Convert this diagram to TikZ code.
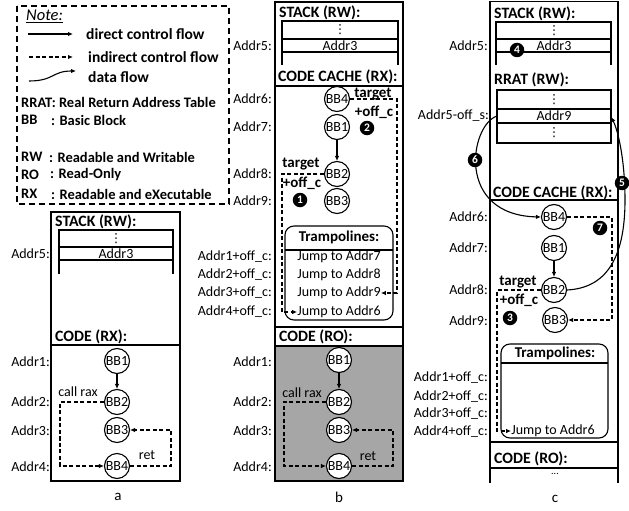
\documentclass[tikz,border=0pt]{standalone}
\usepackage{fontspec}
\setmainfont{Carlito}
\newfontfamily\symfam{DejaVu Sans}
\usetikzlibrary{arrows.meta, positioning, calc}

\begin{document}
\begin{tikzpicture}[x=1pt, y=-1pt,
  memb/.style={draw, line width=1.1pt},
  notebox/.style={draw, line width=1.1pt, dash pattern=on 6pt off 4pt},
  ttl/.style={anchor=west, font=\fontsize{15.8}{17}\selectfont\bfseries, inner sep=0pt},
  key/.style={anchor=west, font=\fontsize{14.5}{16}\selectfont\bfseries, inner sep=0pt},
  leg/.style={anchor=west, font=\fontsize{15.5}{17}\selectfont\bfseries, inner sep=0pt},
  bld/.style={font=\fontsize{15}{16}\selectfont\bfseries, inner sep=0pt},
  adr/.style={anchor=east, font=\fontsize{14}{16}\selectfont, inner sep=0pt},
  cell/.style={font=\fontsize{14}{16}\selectfont, inner sep=0pt},
  vdt/.style={font=\symfam\fontsize{12.5}{12.5}\selectfont, inner sep=0pt},
  bb/.style={draw, circle, line width=1.1pt, minimum size=25pt, inner sep=0pt,
             fill=white, font=\fontsize{14}{16}\selectfont},
  num/.style={circle, fill=black, text=white, minimum size=14.5pt, inner sep=0pt,
              font=\fontsize{11.5}{12}\selectfont\bfseries},
  drct/.style={-{Latex[length=5pt,width=4.5pt]}, line width=1.1pt},
  indr/.style={-{Latex[length=5pt,width=4.5pt]}, line width=1.1pt,
               dash pattern=on 4pt off 2.5pt},
  dflw/.style={-{Latex[length=5pt,width=4.5pt]}, line width=1.1pt},
]
\useasboundingbox (0,0) rectangle (629,511);

%% ---- Note ----
\draw[notebox] (17,6) rectangle (229,204);
\node[anchor=west, inner sep=0pt, font=\fontsize{16.5}{18}\selectfont] (note) at (26,16)
  {\underline{\textit{Note:}}};
\coordinate (l1a) at (28,34);  \coordinate (l1b) at (73,34);
\coordinate (l2a) at (29,57);  \coordinate (l2b) at (73,57);
\coordinate (l3a) at (29,81);  \coordinate (l3b) at (76,71);
\draw[drct] (l1a) -- (l1b);
\draw[indr] (l2a) -- (l2b);
\draw[dflw] (l3a) .. controls (54,81) and (52,71) .. (l3b);
\node[leg] (l1) at (86,34) {direct control flow};
\node[leg] (l2) at (88,57) {indirect control flow};
\node[leg] (l3) at (88,77) {data flow};
\node[key] (kR)  at (21,102) {RRAT: Real Return Address Table};
\node[key] (kB)  at (21,120) {BB};
\node[key] (kBt) at (51,120) {: Basic Block};
\node[key] (kW)  at (21,157) {RW};
\node[key] (kWt) at (49,157) {: Readable and Writable};
\node[key] (kO)  at (21,175) {RO};
\node[key] (kOt) at (50,175) {: Read-Only};
\node[key] (kX)  at (21,194) {RX};
\node[key] (kXt) at (51,194) {: Readable and eXecutable};

%% ---- (a) original program ----
\draw[memb] (51,212) rectangle (180,481);
\draw[memb] (51,345) -- (180,345);
\node[ttl] (aStk) at (55,222) {STACK (RW):};
\draw[memb] (59,274) -- (59,230) -- (173,230) -- (173,274);
\draw[memb] (59,247) -- (173,247);
\draw[memb] (59,260) -- (173,260);
\node[vdt]  (aD)  at (116,238.5) {⋮};
\node[cell] (aA3) at (116,253.5) {Addr3};
\node[adr] at (50,253.5) {Addr5:};
\node[ttl] (aCode) at (55,337) {CODE (RX):};
\node[bb] (a1) at (117,361) {BB1};
\node[bb] (a2) at (117,402) {BB2};
\node[bb] (a3) at (117,430) {BB3};
\node[bb] (a4) at (117,466) {BB4};
\node[adr] at (50,362) {Addr1:};
\node[adr] at (50,402) {Addr2:};
\node[adr] at (50,431) {Addr3:};
\node[adr] at (50,467) {Addr4:};
\draw[drct] (a1) -- (a2);
\draw[indr] (a2.west) -| (60,440) |- (a4.west);
\draw[indr] (a4.east) -| (171,440) |- (a3.east);
\node[cell] (aCall) at (78,392) {call rax};
\node[cell] (aRet)  at (147,455) {ret};
\node[font=\fontsize{15}{16}\selectfont] (capA) at (118,497) {a};

%% ---- (b) code cache with trampolines ----
\draw[memb] (275,2) rectangle (403,481);
\draw[memb] (275,86) -- (403,86);
\draw[memb] (275,327) -- (403,327);
\draw[memb, fill=black!35] (275,346) rectangle (403,481);
\node[ttl] (bStk) at (279,13) {STACK (RW):};
\draw[memb] (282,65) -- (282,21) -- (398,21) -- (398,65);
\draw[memb] (282,39) -- (398,39);
\draw[memb] (282,52) -- (398,52);
\node[vdt]  (bD)  at (340,30) {⋮};
\node[cell] (bA3) at (340,45.5) {Addr3};
\node[adr] at (272,45.5) {Addr5:};
\node[ttl] (bCache) at (278,77) {CODE CACHE (RX):};
\node[bb] (c4b) at (337,99)  {BB4};
\node[bb] (c1b) at (337,127) {BB1};
\node[bb] (c2b) at (337,174) {BB2};
\node[bb] (c3b) at (337,201) {BB3};
\node[adr] at (272,99)  {Addr6:};
\node[adr] at (272,127) {Addr7:};
\node[adr] at (272,174) {Addr8:};
\node[adr] at (272,201) {Addr9:};
\draw[drct] (c1b) -- (c2b);
\draw[memb, rounded corners=9pt] (285,226) rectangle (393,320);
\draw[memb] (285,250) -- (393,250);
\node[bld] (bTr) at (339,237) {Trampolines:};
\node[cell] (bJ7) at (339,257) {Jump to Addr7};
\node[cell] (bJ8) at (339,275) {Jump to Addr8};
\node[cell] (bJ9) at (339,293) {Jump to Addr9};
\node[cell] (bJ6) at (339,312) {Jump to Addr6};
\node[adr] at (272,257) {Addr1+off\_c:};
\node[adr] at (272,275) {Addr2+off\_c:};
\node[adr] at (272,293) {Addr3+off\_c:};
\node[adr] at (272,312) {Addr4+off\_c:};
\draw[indr] (c4b.east) -| (397,250) |- (bJ9.east);
\draw[indr] (c2b.west) -| (282,250) |- (bJ6.west);
\node[bld] (bT2) at (373,94)  {target};
\node[bld] (bO2) at (374,112) {+off\_c};
\node[num] (n2)  at (367,128) {2};
\node[bld] (bT1) at (301,164) {target};
\node[bld] (bO1) at (302,183) {+off\_c};
\node[num] (n1)  at (300,200) {1};
\node[ttl] (bCode) at (279,337) {CODE (RO):};
\node[bb] (b1) at (339,360) {BB1};
\node[bb] (b2) at (339,402) {BB2};
\node[bb] (b3) at (339,430) {BB3};
\node[bb] (b4) at (339,466) {BB4};
\node[adr] at (272,362) {Addr1:};
\node[adr] at (272,402) {Addr2:};
\node[adr] at (272,431) {Addr3:};
\node[adr] at (272,467) {Addr4:};
\draw[drct] (b1) -- (b2);
\draw[indr] (b2.west) -| (284,440) |- (b4.west);
\draw[indr] (b4.east) -| (393,440) |- (b3.east);
\node[cell] (bCall) at (302,393) {call rax};
\node[cell] (bRet)  at (368,456) {ret};
\node[font=\fontsize{15}{16}\selectfont] (capB) at (339,497) {b};

%% ---- (c) return address table ----
\draw[memb] (490,483) -- (490,1.5) -- (618,1.5) -- (618,483);
\draw[memb] (490,200) -- (618,200);
\draw[memb] (490,442) -- (618,442);
\draw[memb] (490,468) -- (618,468);
\node[ttl] (cStk) at (494,14) {STACK (RW):};
\draw[memb] (496,65) -- (496,22) -- (611,22) -- (611,65);
\draw[memb] (496,39) -- (611,39);
\draw[memb] (496,52) -- (611,52);
\node[vdt]  (cD)  at (554,30.5) {⋮};
\node[cell] (cA3) at (554,46) {Addr3};
\node[num]  (n4)  at (517,50) {4};
\node[adr] at (488,46) {Addr5:};
\node[ttl] (cRrat) at (494,80) {RRAT (RW):};
\draw[memb] (497,90) rectangle (611,143);
\draw[memb] (497,109) -- (611,109);
\draw[memb] (497,123) -- (611,123);
\node[vdt]  (cD1) at (554,99.5) {⋮};
\node[cell] (cA9) at (554,116) {Addr9};
\node[vdt]  (cD2) at (554,133) {⋮};
\coordinate (cL) at (497,116);
\coordinate (cR) at (611,117);
\node[adr] at (489,116) {Addr5-off\_s:};
\node[ttl] (cCache) at (493,193) {CODE CACHE (RX):};
\node[bb] (c4) at (554,217) {BB4};
\node[bb] (c1) at (554,248) {BB1};
\node[bb] (c2) at (554,290) {BB2};
\node[bb] (c3) at (555,320) {BB3};
\node[adr] at (488,217) {Addr6:};
\node[adr] at (488,248) {Addr7:};
\node[adr] at (488,290) {Addr8:};
\node[adr] at (488,321) {Addr9:};
\draw[drct] (c1) -- (c2);
\draw[indr] (c4.east) -| (612,270) |- (c3.east);
\node[num] (n7) at (600,228) {7};
\draw[dflw] (c2.east) .. controls (605,288) and (625,260) .. (625,200)
                      .. controls (625,160) and (618,130) .. (cR);
\node[num] (n5) at (622,183) {5};
\draw[dflw] (cL) .. controls (470,125) and (455,215) .. (c4.west);
\node[num] (n6) at (475,160) {6};
\draw[memb, rounded corners=9pt] (501,344) rectangle (608,438);
\draw[memb] (501,363) -- (608,363);
\node[bld] (cTr) at (555,353) {Trampolines:};
\node[cell] (cJ6) at (553,431) {Jump to Addr6};
\node[adr] at (488,378) {Addr1+off\_c:};
\node[adr] at (488,397) {Addr2+off\_c:};
\node[adr] at (488,414) {Addr3+off\_c:};
\node[adr] at (488,432) {Addr4+off\_c:};
\draw[indr] (c2.west) -| (497,360) |- (cJ6.west);
\node[bld] (cT3) at (518,282) {target};
\node[bld] (cO3) at (519,300) {+off\_c};
\node[num] (n3)  at (510,318) {3};
\node[ttl] (cCode) at (494,459) {CODE (RO):};
\node[cell, font=\fontsize{10}{10}\selectfont] (cDots) at (555,474) {...};
\node[font=\fontsize{15}{16}\selectfont] (capC) at (555,499) {c};
\end{tikzpicture}
\end{document}
